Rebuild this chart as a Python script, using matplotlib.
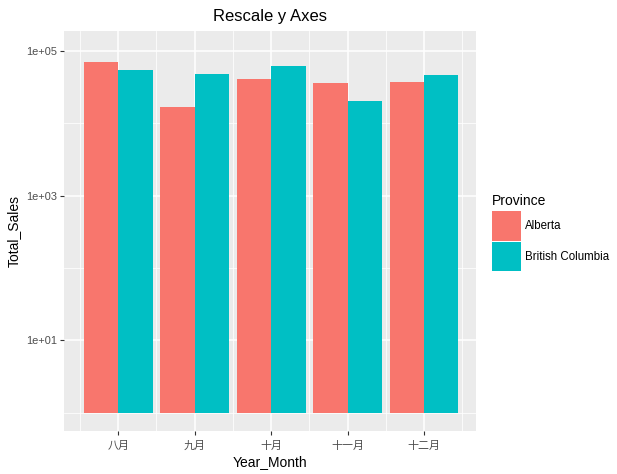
import matplotlib
matplotlib.use("Agg")
import matplotlib.pyplot as plt
import numpy as np
from matplotlib.ticker import FixedLocator, NullFormatter

months = ["八月", "九月", "十月", "十一月", "十二月"]
alberta = [70000, 17000, 40700, 35900, 37400]
british_columbia = [54200, 47800, 61600, 20200, 46300]
provinces = ["Alberta", "British Columbia"]
colors = ["#F8766D", "#00BFC4"]
y_major = [10, 1000, 100000]
y_major_labels = ["1e+01", "1e+03", "1e+05"]
y_minor = [1, 100, 10000]

W, H = 617, 474
fig = plt.figure(figsize=(W / 100, H / 100), dpi=100)
left, right, top, bottom = 64, 476, 31, 431
ax = fig.add_axes([left / W, 1 - bottom / H, (right - left) / W, (bottom - top) / H])
ax.set_facecolor("#EBEBEB")
for s in ax.spines.values():
    s.set_visible(False)

x = np.arange(len(months))
bw = 0.45
for i, (vals, c, name) in enumerate(zip([alberta, british_columbia], colors, provinces)):
    v = np.array(vals, dtype=float)
    ax.bar(x + (i - 0.5) * bw, v - 1, bottom=1, width=bw, color=c, linewidth=0,
           label=name, zorder=3)

ax.set_yscale("log")
ax.set_ylim(10 ** -0.254, 10 ** 5.278)
ax.set_xlim(-0.71, 4.68)
ax.yaxis.set_major_locator(FixedLocator(y_major))
ax.set_yticklabels(y_major_labels)
ax.yaxis.set_minor_locator(FixedLocator(y_minor))
ax.yaxis.set_minor_formatter(NullFormatter())
ax.set_xticks(x)
ax.set_xticks(np.concatenate([[-0.5], x + 0.5]), minor=True)
ax.set_xticklabels(months, family=["Noto Sans CJK SC", "DejaVu Sans"], fontsize=7.9, color="#4D4D4D")
for lbl in ax.get_yticklabels():
    lbl.set_family("Liberation Sans")
    lbl.set_fontsize(7.9)
    lbl.set_color("#4D4D4D")

ax.grid(which="major", color="white", linewidth=1.1, zorder=0)
ax.grid(which="minor", color="white", linewidth=0.55, zorder=0)
ax.set_axisbelow(True)
ax.tick_params(which="major", length=3, width=0.8, color="#333333", pad=2)
ax.tick_params(axis="x", which="major", pad=4)
ax.tick_params(which="minor", length=0)

ax.set_xlabel("Year_Month", family="Liberation Sans", fontsize=10, labelpad=3)
ax.set_ylabel("Total_Sales", family="Liberation Sans", fontsize=10, labelpad=4)
ax.set_title("Rescale y Axes", family="Liberation Sans", fontsize=12, pad=7)

leg = fig.legend(loc="upper left", bbox_to_anchor=(492 / W, 1 - 194 / H),
                 title="Province", frameon=False, prop={"family": "Liberation Sans", "size": 8.3},
                 handlelength=2.5, handleheight=3.5, labelspacing=0.3,
                 handletextpad=0.4, borderpad=0, borderaxespad=0)
leg.get_title().set_family("Liberation Sans")
leg.get_title().set_fontsize(10)
leg._legend_box.align = "left"
leg._legend_handle_box.get_children()[0].sep = 1

fig.savefig("out.png", dpi=100)
